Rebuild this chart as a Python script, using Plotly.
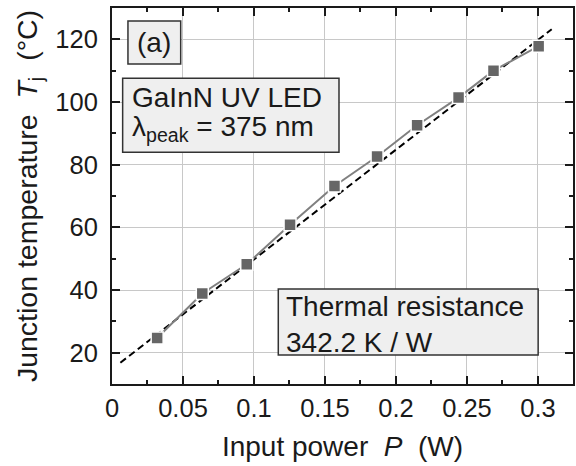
import plotly.graph_objects as go

# Data
power_w = [0.0318, 0.0636, 0.0949, 0.1254, 0.1567, 0.1867, 0.2149, 0.2441, 0.2687, 0.3005]
temp_c = [24.7, 38.9, 48.2, 60.85, 73.2, 82.6, 92.6, 101.4, 110.0, 117.8]
fit_x = [0.0059, 0.3097]
fit_y = [16.8, 123.2]

x_ticks = [0, 0.05, 0.1, 0.15, 0.2, 0.25, 0.3]
x_tick_text = ["0", "0.05", "0.1", "0.15", "0.2", "0.25", "0.3"]
y_ticks = [20, 40, 60, 80, 100, 120]
y_tick_text = ["20", "40", "60", "80", "100", "120"]

FONT = "Liberation Sans, Arial, Helvetica, sans-serif"
NB = "\u00a0"
TXT = "#1a1a1a"

fig = go.Figure()
fig.add_trace(go.Scatter(
    x=fit_x, y=fit_y, mode="lines",
    line=dict(color="black", width=2, dash="7px,4px"),
    showlegend=False, hoverinfo="skip"))
fig.add_trace(go.Scatter(
    x=power_w, y=temp_c, mode="lines+markers",
    line=dict(color="#808080", width=2),
    marker=dict(symbol="square", size=12, color="#666666",
                line=dict(color="white", width=1.5)),
    showlegend=False))

fig.update_xaxes(
    range=[0, 0.3247], tickmode="array", tickvals=x_ticks, ticktext=x_tick_text,
    tickfont_family=FONT, tickfont_size=25.5, tickfont_color=TXT,
    showline=True, linecolor=TXT, linewidth=2, mirror="ticks",
    ticks="inside", ticklen=8, tickwidth=1.5, tickcolor=TXT,
    showgrid=True, gridcolor="#c8c8c8", gridwidth=1, zeroline=False,
    minor=dict(ticks="inside", ticklen=4, tickwidth=1.5, tickcolor=TXT,
               showgrid=False, dtick=0.025, tick0=0),
    title=dict(text=f"Input power{NB}{NB}<i>P</i>{NB}{NB}(W)",
               font=dict(family=FONT, size=28, color=TXT), standoff=16),
)
fig.update_yaxes(
    range=[10, 130], tickmode="array", tickvals=y_ticks, ticktext=y_tick_text,
    tickfont_family=FONT, tickfont_size=25.5, tickfont_color=TXT,
    showline=True, linecolor=TXT, linewidth=2, mirror="ticks",
    ticks="inside", ticklen=8, tickwidth=1.5, tickcolor=TXT,
    showgrid=True, gridcolor="#c8c8c8", gridwidth=1, zeroline=False,
    minor=dict(ticks="inside", ticklen=4, tickwidth=1.5, tickcolor=TXT,
               showgrid=False, dtick=10, tick0=0),
    ticklabelstandoff=7,
    title=dict(text=f"Junction temperature{NB}{NB}<i>T</i><sub>j</sub>{NB}{NB}(°C)",
               font=dict(family=FONT, size=28.5, color=TXT), standoff=9),
)

# Label boxes (paper coordinates)
boxes = [
    (0.0346, 0.851, 0.149, 0.9654),
    (0.0231, 0.6162, 0.4924, 0.813),
    (0.3607, 0.0771, 0.9244, 0.2527),
]
for x0, y0, x1, y1 in boxes:
    fig.add_shape(type="rect", xref="paper", yref="paper",
                  x0=x0, y0=y0, x1=x1, y1=y1,
                  fillcolor="#efefef", line=dict(color="#333333", width=1.5),
                  layer="above")

labels = [
    ("(a)", 0.0918, 0.907, "center"),
    ("GaInN UV LED", 0.0389, 0.762, "left"),
    ("λ<sub>peak</sub> = 375 nm", 0.0389, 0.6795, "left"),
    ("Thermal resistance", 0.3737, 0.2048, "left"),
    ("342.2 K / W", 0.3737, 0.1109, "left"),
]
for text, x, y, anchor in labels:
    fig.add_annotation(text=text, x=x, y=y, xref="paper", yref="paper",
                       xanchor=anchor, yanchor="middle", showarrow=False,
                       font=dict(family=FONT, size=28, color=TXT))

fig.update_layout(
    width=576, height=466,
    margin=dict(l=112, r=1, t=8, b=82),
    plot_bgcolor="white", paper_bgcolor="white",
    font=dict(family=FONT, color=TXT),
)

fig.write_html("out.html")
